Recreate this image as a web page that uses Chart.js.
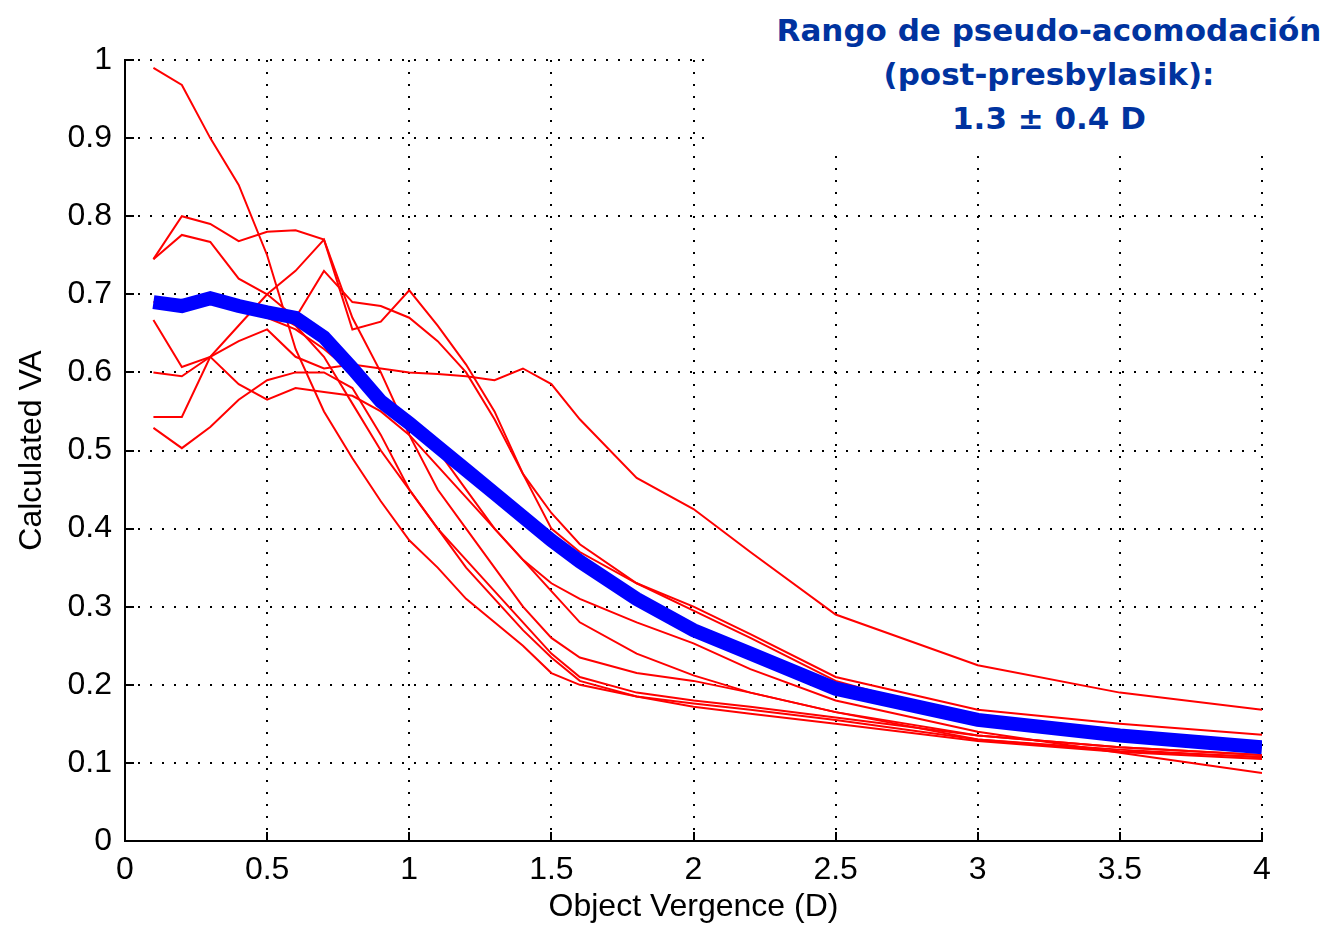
<!DOCTYPE html>
<html>
<head>
<meta charset="utf-8">
<script src="https://cdn.jsdelivr.net/npm/chart.js@4/dist/chart.umd.min.js"></script>
<style>
  body { margin: 0; background: #fff; }
  #wrap { position: relative; width: 1329px; height: 925px; }
  #note {
    position: absolute; left: 712px; top: 0; width: 617px; height: 146px;
    box-sizing: border-box; padding: 8px 0 0 57px;
    background: #fff; color: #00339f; text-align: center;
    font: bold 31px "DejaVu Sans", sans-serif; line-height: 44px;
  }
</style>
</head>
<body>
<div id="wrap">
  <canvas id="myChart" width="1329" height="925"></canvas>
  <div id="note">Rango de pseudo-acomodación<br>(post-presbylasik):<br>1.3 ± 0.4 D</div>
</div>
<script>
// object vergence (D) where the curves are sampled
var vergence = [0.1,0.2,0.3,0.4,0.5,0.6,0.7,0.8,0.9,1.0,1.1,1.2,1.3,1.4,1.5,1.6,1.8,2.0,2.2,2.5,3.0,3.5,4.0];

// individual eyes (red)
var eye1 = [0.99,0.968,0.90,0.84,0.75,0.63,0.55,0.49,0.435,0.385,0.35,0.31,0.28,0.25,0.215,0.20,0.185,0.172,0.163,0.15,0.128,0.114,0.105];
var eye2 = [0.745,0.80,0.79,0.768,0.78,0.782,0.77,0.655,0.665,0.705,0.66,0.61,0.55,0.47,0.40,0.37,0.33,0.295,0.26,0.205,0.155,0.135,0.123];
var eye3 = [0.745,0.776,0.767,0.72,0.70,0.67,0.73,0.69,0.685,0.67,0.64,0.60,0.54,0.47,0.42,0.38,0.33,0.30,0.265,0.21,0.168,0.15,0.136];
var eye4 = [0.685,0.68,0.69,0.68,0.67,0.655,0.63,0.60,0.57,0.54,0.50,0.45,0.40,0.36,0.33,0.31,0.28,0.253,0.22,0.18,0.14,0.113,0.087];
var eye5 = [0.667,0.607,0.62,0.585,0.565,0.58,0.575,0.57,0.55,0.52,0.48,0.44,0.40,0.36,0.32,0.28,0.24,0.212,0.19,0.165,0.135,0.12,0.11];
var eye6 = [0.60,0.595,0.62,0.64,0.655,0.62,0.605,0.61,0.605,0.60,0.598,0.595,0.59,0.605,0.585,0.54,0.465,0.425,0.37,0.29,0.225,0.19,0.168];
var eye7 = [0.543,0.543,0.62,0.66,0.70,0.73,0.77,0.67,0.60,0.52,0.45,0.40,0.35,0.30,0.26,0.235,0.215,0.205,0.19,0.165,0.13,0.115,0.108];
var eye8 = [0.529,0.503,0.53,0.565,0.59,0.60,0.60,0.58,0.52,0.45,0.40,0.36,0.32,0.28,0.24,0.21,0.19,0.18,0.172,0.158,0.135,0.12,0.11];
var eye9 = [0.69,0.69,0.70,0.69,0.68,0.66,0.62,0.56,0.50,0.45,0.40,0.35,0.31,0.27,0.235,0.205,0.185,0.176,0.168,0.155,0.13,0.117,0.107];

// mean curve (blue)
var meanVA = [0.69,0.685,0.695,0.685,0.677,0.67,0.645,0.605,0.563,0.535,0.505,0.475,0.445,0.415,0.385,0.358,0.31,0.27,0.24,0.195,0.155,0.135,0.12];

var xTickLabels = ['0','0.5','1','1.5','2','2.5','3','3.5','4'];
var yTickLabels = ['0','0.1','0.2','0.3','0.4','0.5','0.6','0.7','0.8','0.9','1'];

var eyes = [eye1, eye2, eye3, eye4, eye5, eye6, eye7, eye8, eye9];

function toPoints(values) {
  return values.map((v, i) => ({x: vergence[i], y: v}));
}

var datasets = [{
  data: toPoints(meanVA),
  borderColor: '#0000ff',
  borderWidth: 14,
  borderCapStyle: 'butt'
}];
eyes.forEach(e => datasets.push({
  data: toPoints(e),
  borderColor: '#ff0000',
  borderWidth: 2
}));

// MATLAB style tick marks pointing into the plot
var innerTicks = {
  id: 'innerTicks',
  afterDraw(chart) {
    var ctx = chart.ctx, xs = chart.scales.x, ys = chart.scales.y;
    var a = chart.chartArea;
    ctx.save();
    ctx.strokeStyle = '#000';
    ctx.lineWidth = 2;
    ctx.beginPath();
    xs.ticks.forEach(t => {
      var px = Math.round(xs.getPixelForValue(t.value));
      ctx.moveTo(px, a.bottom);
      ctx.lineTo(px, a.bottom - 9);
    });
    ys.ticks.forEach(t => {
      var py = Math.round(ys.getPixelForValue(t.value));
      ctx.moveTo(a.left, py);
      ctx.lineTo(a.left + 9, py);
    });
    ctx.stroke();
    ctx.restore();
  }
};

var font = {family: '"Liberation Sans", Arial, sans-serif', size: 32, lineHeight: 1.1};

new Chart('myChart', {
  type: 'line',
  data: {datasets: datasets},
  plugins: [innerTicks],
  options: {
    responsive: false,
    animation: false,
    layout: {padding: {top: 60, right: 67, left: 0, bottom: 0}},
    elements: {point: {radius: 0}, line: {tension: 0}},
    plugins: {legend: {display: false}, tooltip: {enabled: false}},
    scales: {
      x: {
        type: 'linear', min: 0, max: 4,
        afterFit: s => { s.height = 84; },
        grid: {color: '#000', lineWidth: 2, drawTicks: false},
        border: {display: true, color: '#000', width: 2, dash: [2, 10]},
        ticks: {stepSize: 0.5, autoSkip: false, maxRotation: 0, padding: 12, color: '#000', font: font,
                callback: (v, i) => xTickLabels[i]},
        title: {display: true, text: 'Object Vergence (D)', color: '#000', font: font, padding: {top: 0, bottom: 0}}
      },
      y: {
        min: 0, max: 1,
        afterFit: s => { s.width = 125; },
        grid: {color: '#000', lineWidth: 2, drawTicks: false},
        border: {display: true, color: '#000', width: 2, dash: [2, 10]},
        ticks: {stepSize: 0.1, autoSkip: false, padding: 13, color: '#000', font: font,
                callback: (v, i) => yTickLabels[i]},
        title: {display: true, text: 'Calculated VA', color: '#000', font: font, padding: {top: 15, bottom: 0}}
      }
    }
  }
});
</script>
</body>
</html>
